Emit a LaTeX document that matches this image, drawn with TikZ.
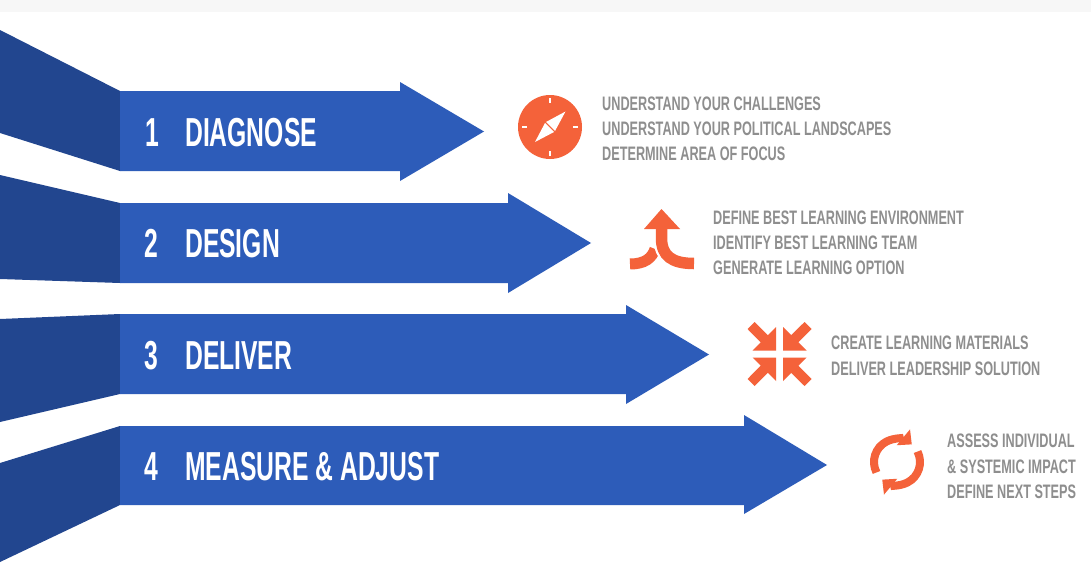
\documentclass[tikz,border=0pt]{standalone}
\usepackage{fontspec}
\usetikzlibrary{arrows.meta}
\newfontfamily\bigfont{Liberation Sans}[FakeStretch=0.61]
\newfontfamily\smallfont{Liberation Sans}[FakeStretch=0.65]
\definecolor{bodyblue}{HTML}{2D5CB9}
\definecolor{flapblue}{HTML}{22468F}
\definecolor{iconorange}{HTML}{F4623A}
\definecolor{txtgrey}{HTML}{8E8E8E}
\definecolor{topgrey}{HTML}{F7F7F7}
\begin{document}
\begin{tikzpicture}[x=1pt,y=-1pt,
  flap/.style={fill=flapblue},
  arrowbody/.style={fill=bodyblue},
  steplabel/.style={font=\bigfont\bfseries\fontsize{40.5}{40.5}\selectfont, text=white, anchor=base west, inner sep=0pt},
  itemtext/.style={font=\smallfont\bfseries\fontsize{19.5}{19.5}\selectfont, text=txtgrey, anchor=base west, inner sep=0pt},
  iconfill/.style={fill=iconorange}]
\useasboundingbox (0,0) rectangle (1091,562);
\fill[white] (0,0) rectangle (1091,562);
\fill[topgrey] (0,0) rectangle (1091,12);

% arrow 1
\fill[flap] (0,30) -- (120,91) -- (120,171) -- (0,133) -- cycle;
\fill[arrowbody] (120,91) -- (400,91) -- (400,82) -- (484,131.5) -- (400,181) -- (400,171) -- (120,171) -- cycle;
% arrow 2
\fill[flap] (0,175) -- (120,203) -- (120,283) -- (0,279) -- cycle;
\fill[arrowbody] (120,203) -- (508,203) -- (508,193) -- (591,243) -- (508,293) -- (508,283) -- (120,283) -- cycle;
% arrow 3
\fill[flap] (0,319) -- (120,314) -- (120,394) -- (0,422) -- cycle;
\fill[arrowbody] (120,314) -- (626,314) -- (626,305) -- (709,354.5) -- (626,404) -- (626,394) -- (120,394) -- cycle;
% arrow 4
\fill[flap] (0,463) -- (120,426) -- (120,505) -- (0,562) -- cycle;
\fill[arrowbody] (120,426) -- (744,426) -- (744,415) -- (827,465) -- (744,514) -- (744,505) -- (120,505) -- cycle;

% step labels
\node[steplabel] (n1) at (145,146) {1};
\node[steplabel] (t1) at (185,146) {DIAGNOSE};
\node[steplabel] (n2) at (144,257) {2};
\node[steplabel] (t2) at (185,257) {DESIGN};
\node[steplabel] (n3) at (144,369) {3};
\node[steplabel] (t3) at (185,369) {DELIVER};
\node[steplabel] (n4) at (144,480) {4};
\node[steplabel] (t4) at (185,480) {MEASURE \& ADJUST};

% icon 1: compass
\coordinate (c1) at (550,127);
\fill[iconfill] (c1) circle (32);
\draw[white, line width=2.5pt] (c1) ++(0,-29) -- ++(0,5);
\draw[white, line width=2.5pt] (c1) ++(0,29) -- ++(0,-5);
\draw[white, line width=2.5pt] (c1) ++(-28,0) -- ++(5,0);
\draw[white, line width=2.5pt] (c1) ++(28,0) -- ++(-5,0);
\begin{scope}[shift={(550,127)}]
  \fill[white] (15.5,-15.5) -- (5,4) -- (-4,-5) -- cycle;
  \fill[white] (-15,15) -- (-5,-4) -- (4,5) -- cycle;
\end{scope}

% icon 2: merge
\coordinate (c2) at (662,241);
\draw[iconorange, line width=11pt] (630,264) .. controls (645,264) and (652,258) .. (655,249);
\draw[white, line width=16pt] (661.5,238) .. controls (661.5,256) and (672,263.5) .. (694,263.5);
\draw[iconorange, line width=11.5pt] (661.5,226) -- (661.5,238) .. controls (661.5,256) and (672,263.5) .. (694,263.5);
\fill[iconfill] (644,229) -- (661.5,209) -- (680,229) -- cycle;

% icon 3: compress
\coordinate (c3) at (779.5,354);
\begin{scope}[shift={(779.5,354)}]
  \foreach \a in {0,90,180,270}
    \fill[iconfill, rotate=\a] (-3.5,-3.5) -- (-3.5,-27) -- (-11.7,-18.8) -- (-25,-32) -- (-32,-25) -- (-18.8,-11.7) -- (-27,-3.5) -- cycle;
\end{scope}

% icon 4: refresh
\coordinate (c4) at (897,462);
\draw[iconorange, line width=8pt, -{Triangle[width=20pt,length=11pt]}] (c4) ++(-207:23) arc[start angle=-207, end angle=-50, radius=23];
\draw[iconorange, line width=8pt, -{Triangle[width=20pt,length=11pt]}] (c4) ++(-27:23) arc[start angle=-27, end angle=130, radius=23];

% item texts
\node[itemtext] (a1) at (602,110) {UNDERSTAND YOUR CHALLENGES};
\node[itemtext] (a2) at (602,135) {UNDERSTAND YOUR POLITICAL LANDSCAPES};
\node[itemtext] (a3) at (602,160) {DETERMINE AREA OF FOCUS};
\node[itemtext] (b1) at (713,224) {DEFINE BEST LEARNING ENVIRONMENT};
\node[itemtext] (b2) at (713,249) {IDENTIFY BEST LEARNING TEAM};
\node[itemtext] (b3) at (713,274) {GENERATE LEARNING OPTION};
\node[itemtext] (d1) at (831,349) {CREATE LEARNING MATERIALS};
\node[itemtext] (d2) at (831,375) {DELIVER LEADERSHIP SOLUTION};
\node[itemtext] (e1) at (947,447) {ASSESS INDIVIDUAL};
\node[itemtext] (e2) at (947,473) {\& SYSTEMIC IMPACT};
\node[itemtext] (e3) at (947,498) {DEFINE NEXT STEPS};
\end{tikzpicture}
\end{document}
